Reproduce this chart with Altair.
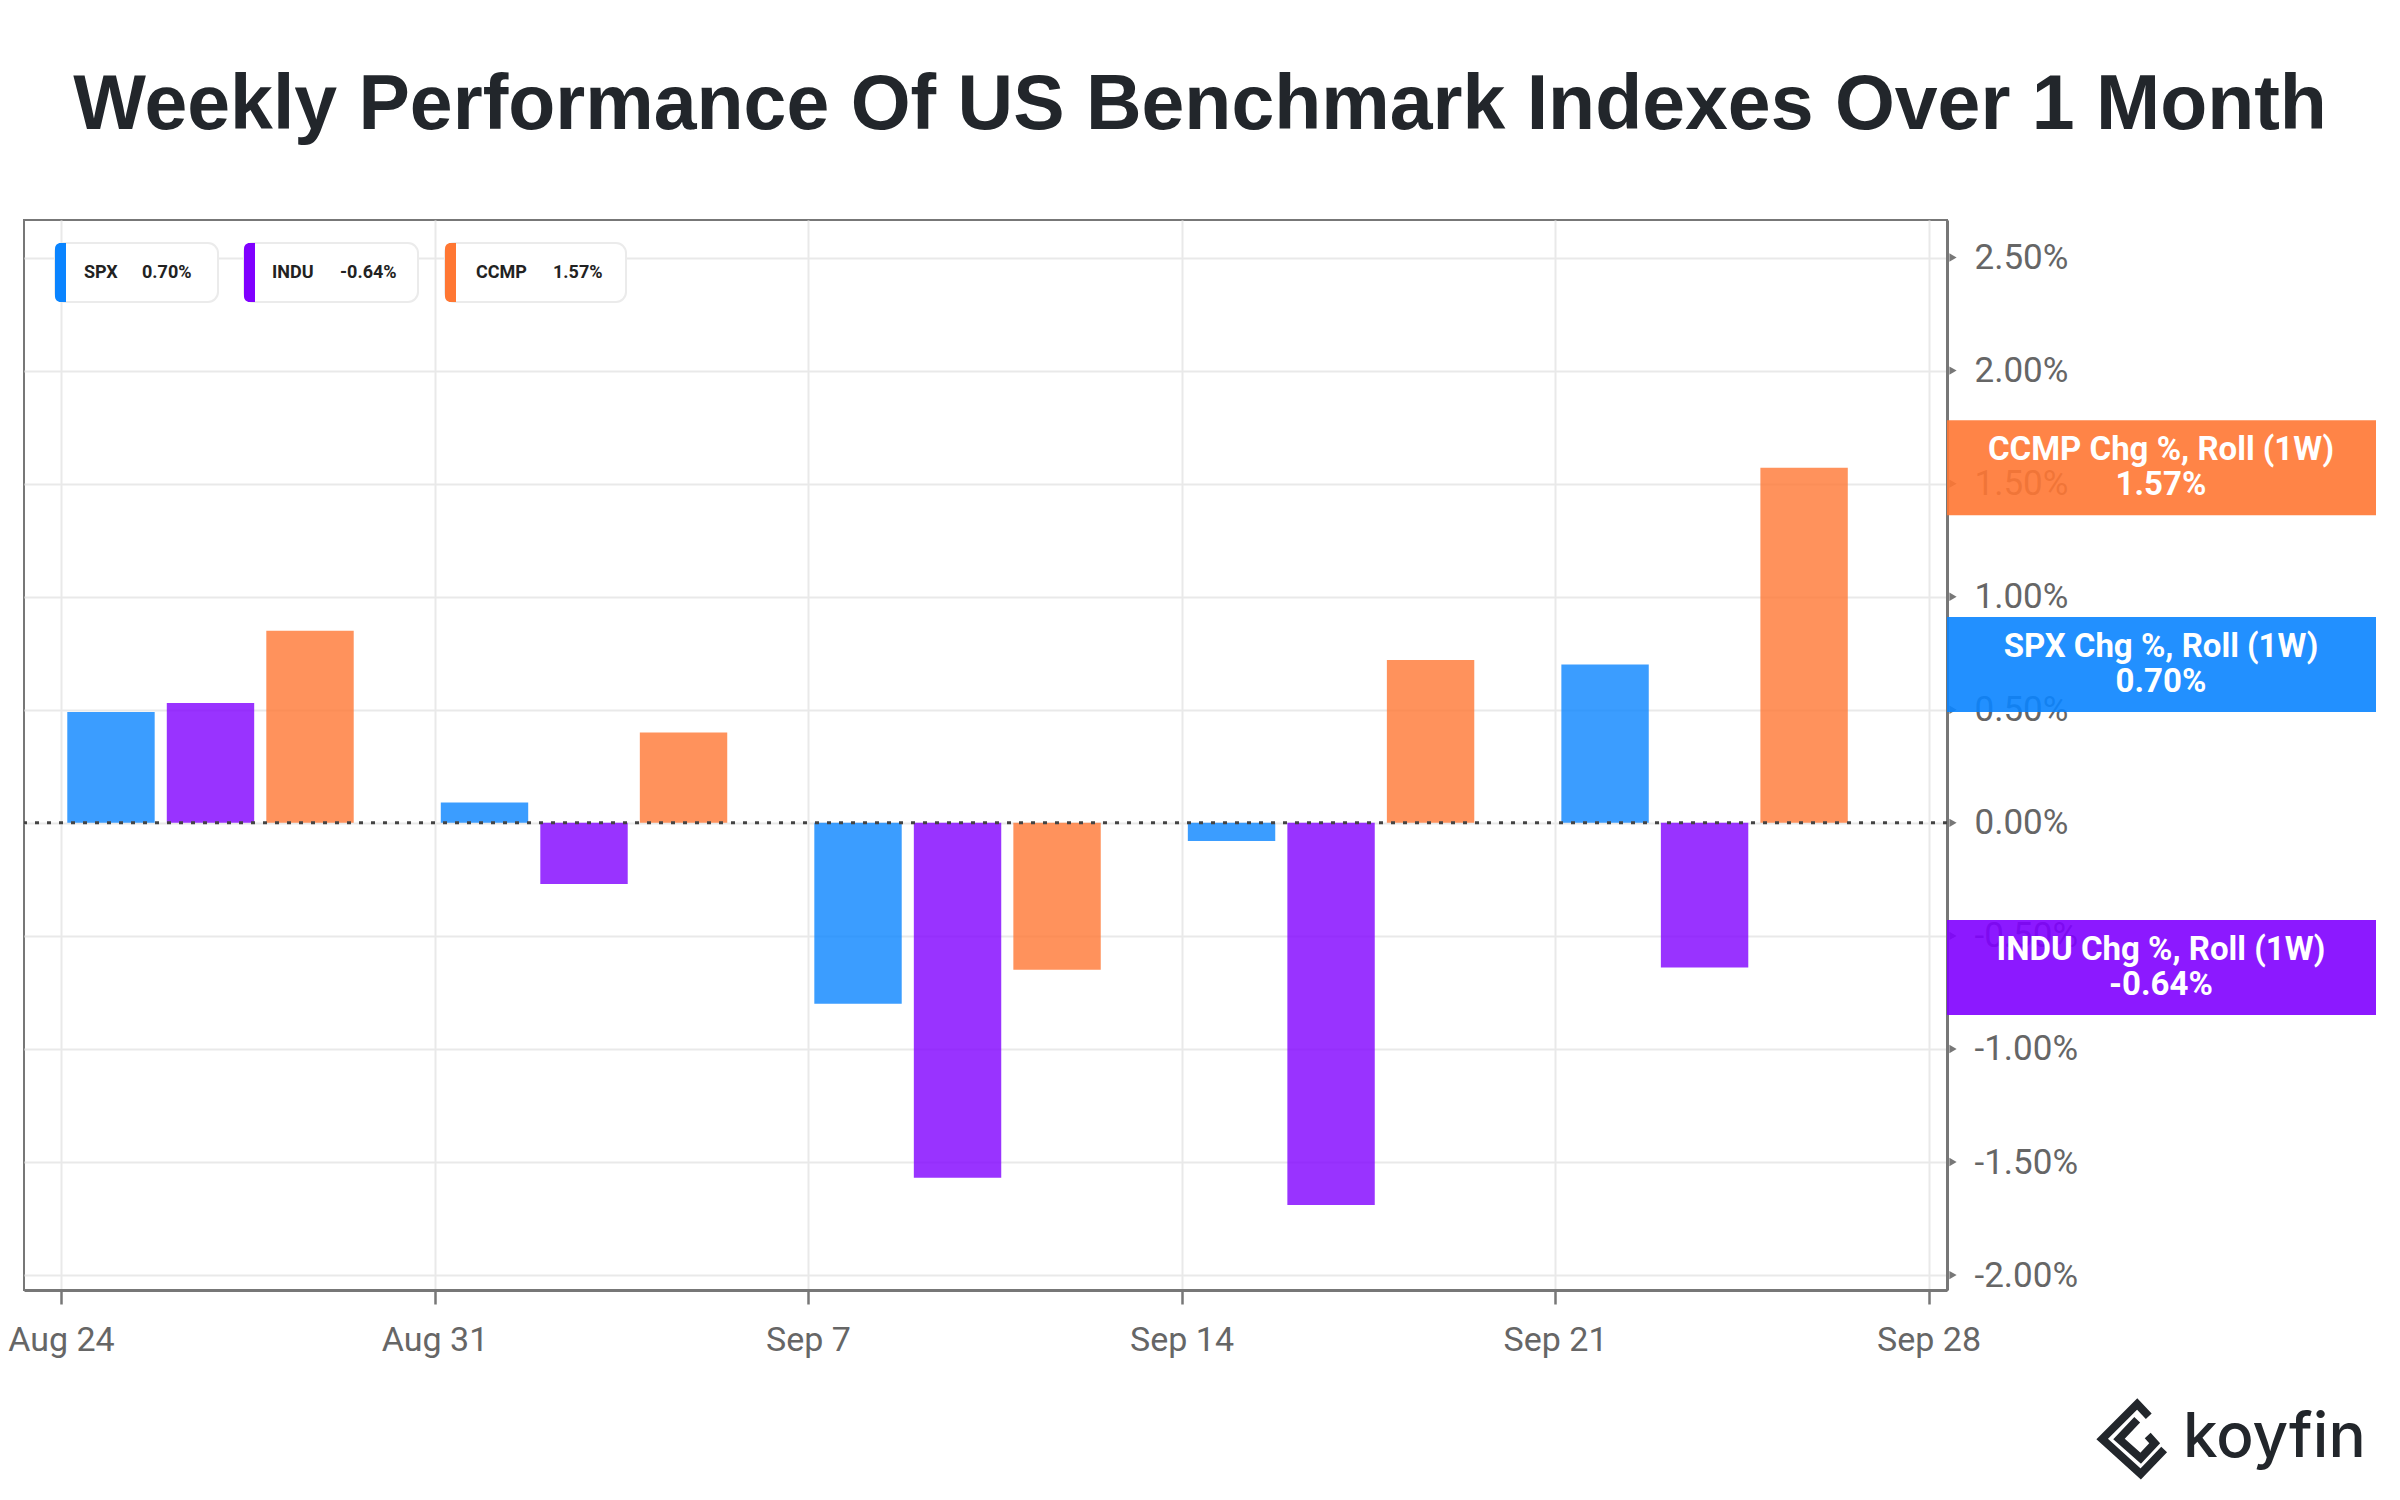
import altair as alt
import pandas as pd

# ---------------- data ----------------
weeks = ["2020-08-24", "2020-08-31", "2020-09-07", "2020-09-14", "2020-09-21"]
series = ["SPX", "INDU", "CCMP"]
spx = [0.49, 0.09, -0.80, -0.08, 0.70]
indu = [0.53, -0.27, -1.57, -1.69, -0.64]
ccmp = [0.85, 0.40, -0.65, 0.72, 1.57]
colors = ["#0a84ff", "#8000ff", "#ff7733"]
y_ticks = [-2.0, -1.5, -1.0, -0.5, 0.0, 0.5, 1.0, 1.5, 2.0, 2.5]
x_ticks = ["2020-08-24", "2020-08-31", "2020-09-07", "2020-09-14", "2020-09-21", "2020-09-28"]
title_text = "Weekly Performance Of US Benchmark Indexes Over 1 Month"
label_suffix = " Chg %, Roll (1W)"

# ---------------- layout constants ----------------
W, H = 1923, 1070
BAR_START, BAR_STEP, BAR_W = 0.118, 1.865, 1.638  # in days within a week

vals = {"SPX": spx, "INDU": indu, "CCMP": ccmp}
rows = []
for i, s in enumerate(series):
    for w, v in zip(weeks, vals[s]):
        st = pd.Timestamp(w) + pd.Timedelta(days=BAR_START + i * BAR_STEP)
        rows.append({"series": s, "week": w, "value": v,
                     "start": st, "end": st + pd.Timedelta(days=BAR_W)})
bars_df = pd.DataFrame(rows)

last_df = pd.DataFrame({
    "series": series,
    "value": [vals[s][-1] for s in series],
})
last_df["label"] = last_df["series"] + label_suffix
last_df["vtxt"] = last_df["value"].map(lambda v: f"{v:.2f}%")


def dt(s, h=0, m=0):
    t = pd.Timestamp(s)
    return alt.DateTime(year=t.year, month=t.month, date=t.day, hours=h, minutes=m)


xscale = alt.Scale(domain=[dt("2020-08-23", 7, 22), dt("2020-09-28", 8, 17)], nice=False)
yscale = alt.Scale(domain=[-2.066, 2.666], nice=False, zero=False)
cscale = alt.Scale(domain=series, range=colors)

xaxis = alt.Axis(values=[dt(t) for t in x_ticks], format="%b %-d", title=None,
                 labelFont="Roboto", labelFontSize=34, labelColor="#666666",
                 labelFlush=False, labelOverlap=False, labelBound=False,
                 tickSize=14, tickColor="#777777", tickWidth=2.5, labelPadding=19,
                 domainColor="#777777", domainWidth=3,
                 grid=True, gridColor="#e9e9e9", gridWidth=2)
yaxis = alt.Axis(orient="right", values=y_ticks, title=None,
                 labelExpr="(datum.value < 0 ? '-' : '') + format(abs(datum.value), '.2f') + '%'",
                 labelFont="Roboto", labelFontSize=35, labelColor="#666666",
                 ticks=False, labelPadding=27, labelAlign="left",
                 labelOverlap=False, labelFlush=False,
                 domainColor="#777777", domainWidth=3,
                 grid=True, gridColor="#e9e9e9", gridWidth=2)


def Y(field):
    return alt.Y(field, scale=yscale, axis=yaxis, title=None)


bars = alt.Chart(bars_df).mark_rect(opacity=0.8).encode(
    x=alt.X("start:T", scale=xscale, axis=xaxis),
    x2="end:T",
    y=Y("value:Q"),
    y2=alt.datum(0),
    color=alt.Color("series:N", scale=cscale, legend=None),
)

zero = alt.Chart(pd.DataFrame({"value": [0.0]})).mark_rule(
    color="#444444", strokeDash=[4, 8], strokeWidth=3
).encode(y=Y("value:Q"))

tri = alt.Chart(pd.DataFrame({"value": y_ticks})).mark_point(
    shape="triangle-right", filled=True, size=70, color="#777777", opacity=1
).encode(x=alt.value(W + 6), y=Y("value:Q"))

boxes = alt.Chart(last_df).mark_rule(strokeWidth=95, opacity=0.9, strokeCap="butt").encode(
    x=alt.value(W), x2=alt.value(W + 429),
    y=Y("value:Q"),
    color=alt.Color("series:N", scale=cscale, legend=None),
)
box_txt1 = alt.Chart(last_df).mark_text(
    font="Roboto", fontWeight="bold", fontSize=33, color="white", dy=-18, baseline="middle"
).encode(x=alt.value(W + 214), y=Y("value:Q"), text="label:N")
box_txt2 = alt.Chart(last_df).mark_text(
    font="Roboto", fontWeight="bold", fontSize=33, color="white", dy=17, baseline="middle"
).encode(x=alt.value(W + 214), y=Y("value:Q"), text="vtxt:N")

# legend pills (layout positions only)
pill_layout = [(31, 194, 60, 118), (220, 394, 248, 316), (421, 602, 452, 529)]
legend_layers = []
for (s, col, (x0, x1, tx, vx)) in zip(series, colors, pill_layout):
    d = last_df[last_df["series"] == s]
    legend_layers.append(alt.Chart(d).mark_rect(
        fill="white", stroke="#ebebeb", strokeWidth=2, cornerRadius=10
    ).encode(x=alt.value(x0), x2=alt.value(x1), y=alt.value(23), y2=alt.value(82)))
    legend_layers.append(alt.Chart(d).mark_rect(
        fill=col, cornerRadiusTopLeft=10, cornerRadiusBottomLeft=10
    ).encode(x=alt.value(x0), x2=alt.value(x0 + 11), y=alt.value(23), y2=alt.value(82)))
    legend_layers.append(alt.Chart(d).mark_text(
        font="Roboto", fontWeight="bold", fontSize=18, color="#222222", align="left", baseline="middle"
    ).encode(x=alt.value(tx), y=alt.value(53), text="series:N"))
    legend_layers.append(alt.Chart(d).mark_text(
        font="Roboto", fontWeight="bold", fontSize=18, color="#222222", align="left", baseline="middle"
    ).encode(x=alt.value(vx), y=alt.value(53), text="vtxt:N"))

title = alt.Chart(pd.DataFrame({"t": [title_text]})).mark_text(
    font="Liberation Sans", fontWeight="bold", fontSize=77, color="#22262b",
    align="center", baseline="alphabetic"
).encode(x=alt.value(1176), y=alt.value(-91), text="t:N")

logo_txt = alt.Chart(pd.DataFrame({"t": ["koyfin"]})).mark_text(
    font="Inter", fontWeight=500, fontSize=62, color="#22262b",
    align="left", baseline="alphabetic"
).encode(x=alt.value(2159), y=alt.value(1237), text="t:N")

icon_path = ("M0.45,-0.65 L0.12,-1 L-0.88,0 L0.22,1 L0.89,0.3 "
             "M0.12,-0.55 L-0.4,0 L0.22,0.55 L0.62,0.12 L0.42,-0.1")
logo_icon = alt.Chart(pd.DataFrame({"t": ["icon"]})).mark_point(
    shape=icon_path, filled=False, size=4900, stroke="#22262b", strokeWidth=8, opacity=1,
    strokeJoin="miter"
).encode(x=alt.value(2109), y=alt.value(1219))

chart = alt.layer(
    bars, zero, tri, boxes, box_txt1, box_txt2, *legend_layers, title, logo_txt, logo_icon
).properties(
    width=W, height=H,
    padding={"left": 16, "top": 212, "right": 445, "bottom": 202},
    autosize=alt.AutoSizeParams(type="none"),
    background="white",
).configure_view(stroke="#777777", strokeWidth=2)

chart.save("out.html", embed_options={"renderer": "svg", "actions": False})
